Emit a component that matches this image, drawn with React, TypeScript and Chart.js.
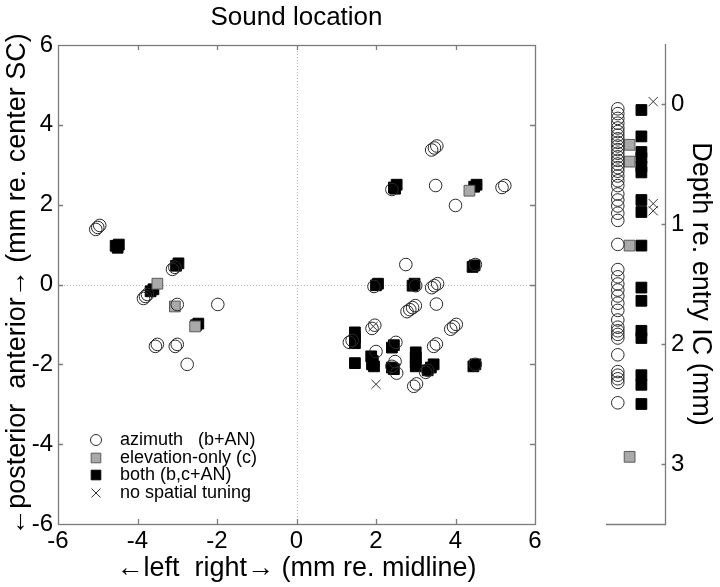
import React, { useEffect, useRef } from 'react';
import { Chart, registerables } from 'chart.js';

Chart.register(...registerables);

const FONT = "'Liberation Sans', Arial, Helvetica, sans-serif";

// ---- text ----
const chartTitle = 'Sound location';
const xAxisTitle = '\u2190left  right\u2192 (mm re. midline)';
const yAxisTitle = '\u2190posterior  anterior\u2192 (mm re. center SC)';
const depthAxisTitle = 'Depth re. entry IC (mm)';
const legendLabels = ['azimuth   (b+AN)', 'elevation-only (c)', 'both (b,c+AN)', 'no spatial tuning'];

// ---- ticks ----
const xTicks = [-6, -4, -2, 0, 2, 4, 6];
const yTicks = [-6, -4, -2, 0, 2, 4, 6];
const depthTicks = [0, 1, 2, 3];

// ---- main panel: [x, y] in mm ----
const azimuthPts: [number, number][] = [
  [-5.05, 1.38], [-5.0, 1.43], [-4.95, 1.48],
  [-3.12, 0.38], [-3.06, 0.43],
  [-3.85, -0.35], [-3.8, -0.3], [-3.75, -0.25],
  [-3.0, -0.5], [-1.98, -0.5],
  [-3.55, -1.55], [-3.5, -1.5],
  [-3.05, -1.55], [-3.0, -1.5],
  [-2.75, -2.0],
  [3.4, 3.37], [3.47, 3.42], [3.53, 3.47],
  [2.4, 2.38], [3.5, 2.48], [5.17, 2.43], [5.24, 2.48], [4.0, 1.98],
  [2.75, 0.5], [4.5, 0.5],
  [1.95, -0.05], [3.0, -0.03],
  [3.4, -0.08], [3.47, -0.03], [3.55, 0.02],
  [2.78, -0.68], [2.85, -0.63], [2.92, -0.58], [2.99, -0.53],
  [3.52, -0.49],
  [3.88, -1.12], [3.95, -1.06], [4.02, -1.0],
  [1.9, -1.1], [1.97, -1.02],
  [1.33, -1.45], [1.4, -1.4],
  [2.0, -1.68], [2.5, -1.45],
  [2.48, -1.93], [2.52, -2.22], [2.4, -2.05],
  [2.95, -2.55], [3.02, -2.49],
  [3.45, -1.55], [3.52, -1.49],
  [3.25, -2.2], [3.3, -2.15],
  [4.5, -2.0],
];
const elevationPts: [number, number][] = [
  [-3.5, 0.02], [-3.06, -0.55], [-2.55, -1.05], [4.35, 2.35],
];
const bothPts: [number, number][] = [
  [-4.55, 0.97], [-4.47, 1.0], [-4.5, 0.92],
  [-3.03, 0.47], [-2.97, 0.53],
  [-3.67, -0.17], [-3.6, -0.12],
  [-2.53, -1.02], [-2.47, -0.98],
  [2.45, 2.43], [2.52, 2.5], [2.48, 2.4],
  [4.47, 2.45], [4.53, 2.5],
  [4.43, 0.44], [4.48, 0.48],
  [2.0, -0.02], [2.05, 0.02],
  [2.92, -0.03], [2.97, 0.02],
  [1.47, -1.2], [1.47, -1.33], [1.47, -1.47],
  [1.47, -1.97],
  [1.88, -1.8], [1.92, -1.92], [1.95, -2.05], [1.9, -2.0],
  [2.4, -1.58], [2.45, -1.52],
  [2.4, -2.08], [2.45, -2.12],
  [3.0, -1.7], [3.0, -1.83], [3.0, -1.96], [3.0, -2.05],
  [3.3, -2.15], [3.38, -2.08], [3.45, -2.0],
  [4.45, -2.05], [4.5, -2.0],
];
const nonePts: [number, number][] = [
  [1.93, -1.05], [2.0, -2.5],
];

// ---- depth panel: depth (mm) per class ----
const depthColumns = [1, 2, 3, 4];
const depthAzimuth = [
  0.04, 0.08, 0.12, 0.16, 0.2, 0.23, 0.26, 0.29, 0.32, 0.35, 0.38, 0.41, 0.44, 0.47,
  0.5, 0.53, 0.56, 0.6, 0.64, 0.68, 0.75, 0.8, 0.85, 0.91, 0.97, 1.17,
  1.38, 1.44, 1.5, 1.55, 1.6, 1.66, 1.72, 1.8, 1.86, 1.89, 1.92, 1.95, 2.09,
  2.23, 2.26, 2.29, 2.32, 2.49,
];
const depthElevation = [0.34, 0.48, 1.18, 2.94];
const depthBoth = [0.05, 0.27, 0.4, 0.45, 0.52, 0.57, 0.8, 0.9, 1.18, 1.53, 1.64, 1.89, 1.95, 2.26, 2.34, 2.5];
const depthNone = [-0.02, 0.83, 0.89];

// ---- styles ----
const AXIS_COLOR = '#7c7c7c';
const styles = [
  { pointStyle: 'circle', radius: 6.3, backgroundColor: 'rgba(0,0,0,0)', borderColor: '#2a2a2a', borderWidth: 1 },
  { pointStyle: 'rect', radius: 7.6, backgroundColor: '#a9a9a9', borderColor: '#5a5a5a', borderWidth: 1 },
  { pointStyle: 'rect', radius: 7.6, backgroundColor: '#000000', borderColor: '#000000', borderWidth: 1 },
  { pointStyle: 'crossRot', radius: 6.5, backgroundColor: 'rgba(0,0,0,0)', borderColor: '#333333', borderWidth: 1 },
];

function toXY(pts: [number, number][]) {
  return pts.map(([x, y]) => ({ x, y }));
}

function makeDataset(data: any[], i: number) {
  const s = styles[i];
  return {
    label: legendLabels[i],
    data,
    showLine: false,
    pointStyle: s.pointStyle,
    pointRadius: s.radius,
    pointHoverRadius: s.radius,
    pointBackgroundColor: s.backgroundColor,
    pointBorderColor: s.borderColor,
    pointBorderWidth: s.borderWidth,
    clip: false,
  };
}

function drawMarker(ctx: CanvasRenderingContext2D, i: number, x: number, y: number, r: number) {
  const s = styles[i];
  ctx.save();
  ctx.lineWidth = 1;
  ctx.strokeStyle = s.borderColor;
  ctx.fillStyle = s.backgroundColor;
  ctx.beginPath();
  if (s.pointStyle === 'circle') {
    ctx.arc(x, y, r, 0, Math.PI * 2);
    ctx.stroke();
  } else if (s.pointStyle === 'rect') {
    ctx.rect(x - r, y - r, 2 * r, 2 * r);
    ctx.fill();
    ctx.stroke();
  } else {
    ctx.moveTo(x - r, y - r); ctx.lineTo(x + r, y + r);
    ctx.moveTo(x + r, y - r); ctx.lineTo(x - r, y + r);
    ctx.stroke();
  }
  ctx.restore();
}

const mainDecor = {
  id: 'mainDecor',
  beforeDatasetsDraw(chart: any) {
    const { ctx, chartArea } = chart;
    const { left, right, top, bottom } = chartArea;
    const xs = chart.scales.x;
    const ys = chart.scales.y;
    ctx.save();
    // dotted zero lines
    ctx.strokeStyle = '#b4b4b4';
    ctx.lineWidth = 1;
    ctx.setLineDash([1, 2]);
    const x0 = Math.round(xs.getPixelForValue(0)) + 0.5;
    const y0 = Math.round(ys.getPixelForValue(0)) + 0.5;
    ctx.beginPath();
    ctx.moveTo(x0, top); ctx.lineTo(x0, bottom);
    ctx.moveTo(left, y0); ctx.lineTo(right, y0);
    ctx.stroke();
    ctx.setLineDash([]);
    // box
    ctx.strokeStyle = AXIS_COLOR;
    ctx.lineWidth = 1.3;
    ctx.strokeRect(Math.round(left) + 0.5, Math.round(top) + 0.5, Math.round(right - left), Math.round(bottom - top));
    // inward ticks
    const tl = 5;
    ctx.beginPath();
    xTicks.forEach((v) => {
      if (v === xTicks[0] || v === xTicks[xTicks.length - 1]) return;
      const px = Math.round(xs.getPixelForValue(v)) + 0.5;
      ctx.moveTo(px, top); ctx.lineTo(px, top + tl);
      ctx.moveTo(px, bottom); ctx.lineTo(px, bottom - tl);
    });
    yTicks.forEach((v) => {
      if (v === yTicks[0] || v === yTicks[yTicks.length - 1]) return;
      const py = Math.round(ys.getPixelForValue(v)) + 0.5;
      ctx.moveTo(left, py); ctx.lineTo(left + tl, py);
      ctx.moveTo(right, py); ctx.lineTo(right - tl, py);
    });
    ctx.stroke();
    ctx.restore();
  },
  afterDraw(chart: any) {
    const { ctx, chartArea } = chart;
    ctx.save();
    // title
    ctx.fillStyle = '#000';
    ctx.font = `26px ${FONT}`;
    ctx.textAlign = 'center';
    ctx.textBaseline = 'middle';
    ctx.fillText(chartTitle, (chartArea.left + chartArea.right) / 2, 18);
    // legend
    const lx = chartArea.left + 38;
    const ly = [440, 458, 475, 493];
    ctx.font = `18px ${FONT}`;
    ctx.textAlign = 'left';
    legendLabels.forEach((lab, i) => {
      drawMarker(ctx, i, lx, ly[i], i === 0 ? 5.5 : i === 3 ? 4.5 : 4.8);
      ctx.fillStyle = '#000';
      ctx.fillText(lab, lx + 24, ly[i]);
    });
    ctx.restore();
  },
};

const depthDecor = {
  id: 'depthDecor',
  beforeDatasetsDraw(chart: any) {
    const { ctx, chartArea } = chart;
    const { left, right, top, bottom } = chartArea;
    const ys = chart.scales.y;
    ctx.save();
    ctx.strokeStyle = AXIS_COLOR;
    ctx.lineWidth = 1.3;
    const rx = Math.round(right) + 0.5;
    const by = Math.round(bottom) + 0.5;
    ctx.beginPath();
    ctx.moveTo(rx, top); ctx.lineTo(rx, by);
    ctx.lineTo(left, by);
    depthTicks.forEach((v) => {
      const py = Math.round(ys.getPixelForValue(v)) + 0.5;
      ctx.moveTo(rx, py); ctx.lineTo(rx - 4, py);
    });
    ctx.stroke();
    ctx.restore();
  },
};

export default function App() {
  const mainRef = useRef<HTMLCanvasElement>(null);
  const depthRef = useRef<HTMLCanvasElement>(null);

  useEffect(() => {
    document.body.style.margin = '0';
    const tickFont = { family: FONT, size: 24 };
    const titleFont = { family: FONT, size: 27 };
    const noGrid = { display: false, drawTicks: false, drawOnChartArea: false };

    const main = new Chart(mainRef.current as HTMLCanvasElement, {
      type: 'scatter',
      data: {
        datasets: [
          makeDataset(toXY(azimuthPts), 0),
          makeDataset(toXY(elevationPts), 1),
          makeDataset(toXY(bothPts), 2),
          makeDataset(toXY(nonePts), 3),
        ] as any,
      },
      options: {
        responsive: false,
        animation: false,
        devicePixelRatio: 1,
        layout: { padding: { top: 45, right: 25, left: 0, bottom: 0 } },
        plugins: { legend: { display: false }, tooltip: { enabled: false }, title: { display: false } },
        events: [],
        scales: {
          x: {
            type: 'linear',
            min: -6,
            max: 6,
            afterBuildTicks: (s: any) => { s.ticks = xTicks.map((v) => ({ value: v })); },
            afterFit: (s: any) => { s.height = 63; },
            grid: noGrid,
            border: { display: false },
            ticks: { font: tickFont, color: '#000', padding: 3, maxRotation: 0, autoSkip: false },
            title: { display: true, text: xAxisTitle, font: titleFont, color: '#000', padding: { top: 0, bottom: 2 } },
          },
          y: {
            type: 'linear',
            min: -6,
            max: 6,
            afterBuildTicks: (s: any) => { s.ticks = yTicks.map((v) => ({ value: v })); },
            afterFit: (s: any) => { s.width = 58; },
            grid: noGrid,
            border: { display: false },
            ticks: { font: tickFont, color: '#000', padding: 5, autoSkip: false },
            title: { display: true, text: yAxisTitle, font: titleFont, color: '#000', padding: { top: 1, bottom: 0 } },
          },
        },
      } as any,
      plugins: [mainDecor],
    });

    const depth = new Chart(depthRef.current as HTMLCanvasElement, {
      type: 'scatter',
      data: {
        datasets: [
          makeDataset(depthAzimuth.map((d) => ({ x: depthColumns[0], y: d })), 0),
          makeDataset(depthElevation.map((d) => ({ x: depthColumns[1], y: d })), 1),
          makeDataset(depthBoth.map((d) => ({ x: depthColumns[2], y: d })), 2),
          makeDataset(depthNone.map((d) => ({ x: depthColumns[3], y: d })), 3),
        ] as any,
      },
      options: {
        responsive: false,
        animation: false,
        devicePixelRatio: 1,
        layout: { padding: { top: 44, right: 0, left: 46, bottom: 63 } },
        plugins: { legend: { display: false }, tooltip: { enabled: false }, title: { display: false } },
        events: [],
        scales: {
          x: { type: 'linear', min: 0, max: 5, display: false },
          y: {
            type: 'linear',
            position: 'right',
            reverse: true,
            min: -0.5,
            max: 3.5,
            afterBuildTicks: (s: any) => { s.ticks = depthTicks.map((v) => ({ value: v })); },
            afterFit: (s: any) => { s.width = 55; },
            grid: noGrid,
            border: { display: false },
            ticks: { font: tickFont, color: '#000', padding: 6, autoSkip: false },
            title: { display: true, text: depthAxisTitle, font: titleFont, color: '#000', padding: { top: 3, bottom: 0 } },
          },
        },
      } as any,
      plugins: [depthDecor],
    });

    return () => {
      main.destroy();
      depth.destroy();
    };
  }, []);

  return (
    <div style={{ position: 'relative', width: 720, height: 587, background: '#fff' }}>
      <canvas ref={mainRef} width={560} height={587} style={{ position: 'absolute', left: 0, top: 0 }} />
      <canvas ref={depthRef} width={160} height={587} style={{ position: 'absolute', left: 560, top: 0 }} />
    </div>
  );
}
